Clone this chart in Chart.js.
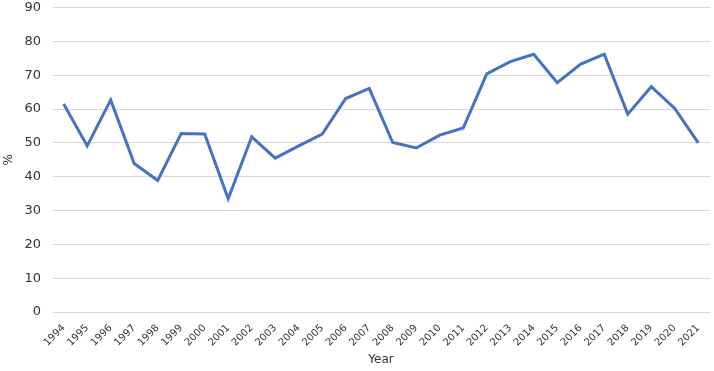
<!DOCTYPE html>
<html><head><meta charset="utf-8">
<script src="https://cdn.jsdelivr.net/npm/chart.js@4"></script>
<style>html,body{margin:0;padding:0;background:#fff}#w{width:714px;height:371px;position:relative}</style>
</head><body><div id="w"><canvas id="c"></canvas></div>
<script>
const years = ["1994","1995","1996","1997","1998","1999","2000","2001","2002","2003","2004","2005","2006","2007","2008","2009","2010","2011","2012","2013","2014","2015","2016","2017","2018","2019","2020","2021"];
const values = [61.5,49.1,62.7,43.9,38.9,52.8,52.6,33.5,51.8,45.5,49.1,52.6,63.1,66.1,50.1,48.5,52.3,54.4,70.4,74.0,76.2,67.8,73.3,76.2,58.5,66.6,60.2,50.0];
const yTicks = [0,10,20,30,40,50,60,70,80,90];
const FONT = "'DejaVu Sans', Verdana, sans-serif";
new Chart(document.getElementById('c'), {
  type: 'line',
  data: { labels: years, datasets: [{ data: values, borderColor: '#4472C4', borderWidth: 3, pointRadius: 0, tension: 0, fill: false }] },
  options: {
    responsive: true, maintainAspectRatio: false, animation: false,
    layout: { padding: { left: 2, right: 4, top: 1, bottom: 4 } },
    plugins: { legend: { display: false }, tooltip: { enabled: false } },
    scales: {
      x: {
        offset: true,
        grid: { display: false },
        border: { display: false },
        ticks: { color: '#333333', font: { family: FONT, size: 10 }, minRotation: 45, maxRotation: 45, autoSkip: false, padding: 2 },
        title: { display: true, text: 'Year', color: '#333333', font: { family: FONT, size: 12 }, padding: { top: 2, bottom: 0 } }
      },
      y: {
        min: 0, max: 90,
        afterBuildTicks: s => { s.ticks = yTicks.map(v => ({ value: v })); },
        grid: { color: '#d9d9d9', lineWidth: 1, drawTicks: true, tickLength: 10, tickColor: 'rgba(0,0,0,0)' },
        border: { display: false },
        ticks: { color: '#333333', font: { family: FONT, size: 13, lineHeight: 1 }, padding: 1 },
        title: { display: true, text: '%', color: '#333333', font: { family: FONT, size: 12 }, padding: { top: 0, bottom: 7 } }
      }
    }
  }
});
</script></body></html>
